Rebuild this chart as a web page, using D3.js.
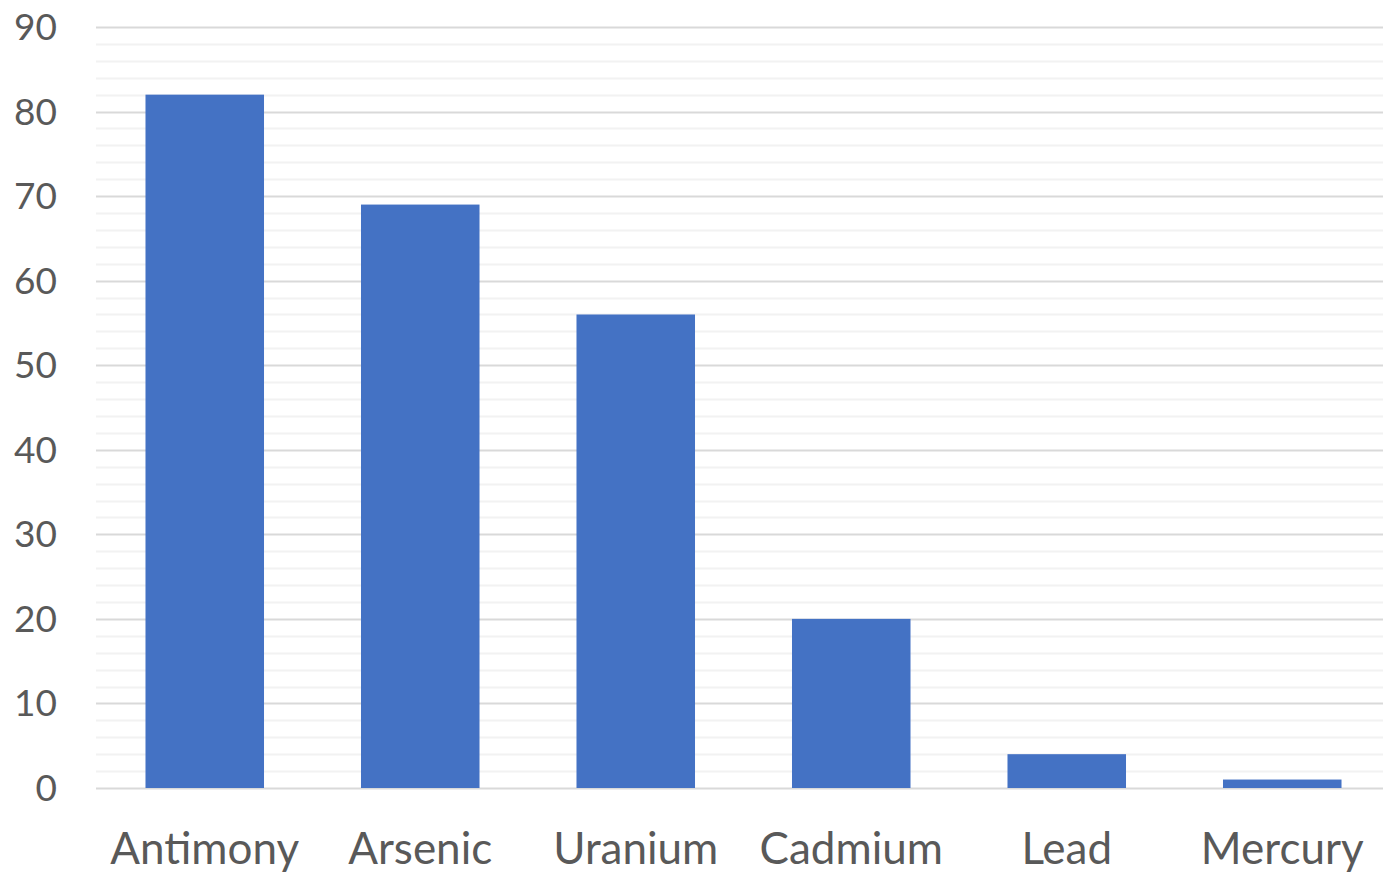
<!DOCTYPE html>
<html>
<head>
<meta charset="utf-8">
<script src="https://cdn.jsdelivr.net/npm/d3@7"></script>
<style>
  html, body { margin: 0; padding: 0; background: #fff; }
  svg { display: block; }
  text { font-family: Lato, "Open Sans", sans-serif; fill: #595959; }
</style>
</head>
<body>
<svg id="chart" width="1383" height="872"></svg>
<script>
// Elements and their values
const categories = ["Antimony", "Arsenic", "Uranium", "Cadmium", "Lead", "Mercury"];
const values = [82, 69, 56, 20, 4, 1];
const yTicks = [0, 10, 20, 30, 40, 50, 60, 70, 80, 90];
const yMinorTicks = d3.range(0, 91, 2);

const W = 1383, H = 872;
const plot = { left: 97, right: 1390, top: 27, bottom: 788 };

const svg = d3.select("#chart");

const x = d3.scaleBand()
  .domain(categories)
  .range([plot.left, plot.right])
  .paddingInner(0.45)
  .paddingOuter(0.225);

const y = d3.scaleLinear()
  .domain([0, 90])
  .range([plot.bottom, plot.top]);

// Minor gridlines
svg.append("g")
  .selectAll("line")
  .data(yMinorTicks.filter(d => d % 10 !== 0))
  .join("line")
  .attr("x1", 96).attr("x2", W)
  .attr("y1", d => Math.round(y(d)) + 0.5).attr("y2", d => Math.round(y(d)) + 0.5)
  .attr("stroke", "#f2f2f2").attr("stroke-width", 2);

// Major gridlines
svg.append("g")
  .selectAll("line")
  .data(yTicks)
  .join("line")
  .attr("x1", 96).attr("x2", W)
  .attr("y1", d => Math.round(y(d)) + 0.5).attr("y2", d => Math.round(y(d)) + 0.5)
  .attr("stroke", "#d9d9d9").attr("stroke-width", 2);

// Bars
svg.append("g")
  .selectAll("rect")
  .data(categories.map((c, i) => ({ c, v: values[i] })))
  .join("rect")
  .attr("x", d => x(d.c))
  .attr("width", x.bandwidth())
  .attr("y", d => y(d.v))
  .attr("height", d => y(0) - y(d.v))
  .attr("fill", "#4472c4");

// Y axis labels
svg.append("g")
  .selectAll("text")
  .data(yTicks)
  .join("text")
  .attr("x", 57)
  .attr("y", d => y(d) + 13)
  .attr("text-anchor", "end")
  .attr("font-size", 37)
  .text(d => d);

// X axis labels
svg.append("g")
  .selectAll("text")
  .data(categories)
  .join("text")
  .attr("x", d => x(d) + x.bandwidth() / 2)
  .attr("y", 864)
  .attr("text-anchor", "middle")
  .attr("font-size", 44)
  .text(d => d);
</script>
</body>
</html>
